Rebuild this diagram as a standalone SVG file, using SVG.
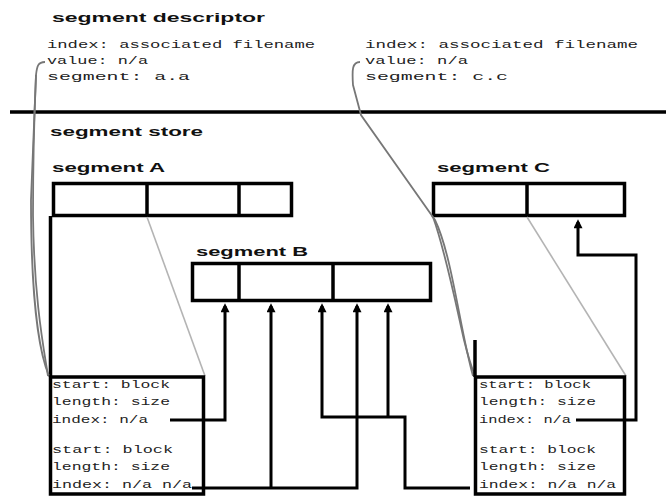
<svg xmlns="http://www.w3.org/2000/svg" width="666" height="496" viewBox="0 0 666 496">
<style>
.title{font-family:"Liberation Sans",Arial,sans-serif;font-weight:bold;font-size:13px;fill:#111}
.lbl{font-family:"Liberation Sans",Arial,sans-serif;font-weight:bold;font-size:12px;fill:#111}
.txt{font-family:"Liberation Mono","DejaVu Sans Mono",monospace;font-size:10px;fill:#222}
.box{fill:#fff;stroke:#000;stroke-width:3.5}
.div{stroke:#000;stroke-width:3.5}
.con{fill:none;stroke:#000;stroke-width:3}
.zoom{fill:none;stroke:#b4b4b4;stroke-width:1.6}
.ptr{fill:none;stroke:#777;stroke-width:1.8}
</style>
<defs>
<marker id="ah" viewBox="0 0 10 10" refX="7" refY="5" markerWidth="13" markerHeight="9" orient="auto" markerUnits="userSpaceOnUse">
<path d="M0,0 L10,5 L0,10 z" fill="#000"/>
</marker>
</defs>

<g id="descriptor">
<text class="title" x="52" y="22" textLength="213" lengthAdjust="spacingAndGlyphs">segment descriptor</text>
<text class="txt" x="47" y="48" textLength="268" lengthAdjust="spacingAndGlyphs">index: associated filename</text>
<text class="txt" x="47" y="64" textLength="101" lengthAdjust="spacingAndGlyphs">value: n/a</text>
<text class="txt" x="47" y="80" textLength="143" lengthAdjust="spacingAndGlyphs">segment: a.a</text>
<text class="txt" x="365" y="48" textLength="273" lengthAdjust="spacingAndGlyphs">index: associated filename</text>
<text class="txt" x="365" y="64" textLength="103" lengthAdjust="spacingAndGlyphs">value: n/a</text>
<text class="txt" x="365" y="80" textLength="143" lengthAdjust="spacingAndGlyphs">segment: c.c</text>
</g>

<line x1="10" y1="112" x2="666" y2="112" stroke="#000" stroke-width="3.5"/>

<g id="store">
<text class="title" x="50" y="136" textLength="153" lengthAdjust="spacingAndGlyphs">segment store</text>
</g>

<g id="segA">
<text class="lbl" x="52" y="172" textLength="113" lengthAdjust="spacingAndGlyphs">segment A</text>
<rect class="box" x="53.5" y="183.5" width="238" height="32"/>
<line class="div" x1="147" y1="183.5" x2="147" y2="215.5"/>
<line class="div" x1="239" y1="183.5" x2="239" y2="215.5"/>
</g>

<g id="segB">
<text class="lbl" x="196" y="256" textLength="112" lengthAdjust="spacingAndGlyphs">segment B</text>
<rect class="box" x="192.5" y="263.5" width="238" height="37"/>
<line class="div" x1="239" y1="263.5" x2="239" y2="300.5"/>
<line class="div" x1="333" y1="263.5" x2="333" y2="300.5"/>
</g>

<g id="segC">
<text class="lbl" x="437" y="172" textLength="113" lengthAdjust="spacingAndGlyphs">segment C</text>
<rect class="box" x="433.5" y="183.5" width="191" height="32"/>
<line class="div" x1="527" y1="183.5" x2="527" y2="215.5"/>
</g>

<g id="connectors">
<line class="zoom" x1="147" y1="217" x2="205" y2="376"/>
<line class="zoom" x1="527" y1="217" x2="626" y2="376"/>
<line x1="50.5" y1="216" x2="50.5" y2="377" stroke="#000" stroke-width="3.5"/>
<path class="ptr" d="M45,62 C38,62 37,66 36,75 L31,200 C31,290 38,350 49,376"/>
<path class="ptr" d="M36,75 C34,120 33,170 33,215 C34,300 44,350 48,376" stroke="#999"/>
<path class="ptr" d="M360,62 C352,62 352,70 353,85 L361,115 L435,220 C452,255 460,330 473,376"/>
<path class="ptr" d="M433,217 C445,250 455,300 464,340 C468,356 471,366 475,376" stroke="#555"/>
<line x1="475" y1="340" x2="475" y2="377" stroke="#000" stroke-width="3.5"/>
<path class="con" d="M170,420 H225 V306" marker-end="url(#ah)"/>
<path class="con" d="M192,488 H357 V306" marker-end="url(#ah)"/>
<path class="con" d="M271,488 V306" marker-end="url(#ah)"/>
<path class="con" d="M470,488 H405 V417 H322 V306" marker-end="url(#ah)"/>
<path class="con" d="M388,417 V306" marker-end="url(#ah)"/>
<path class="con" d="M576,420 H636 V255 H578 V222" marker-end="url(#ah)"/>
</g>

<g id="boxA">
<rect x="50.5" y="377" width="153" height="117" fill="none" stroke="#000" stroke-width="3.5"/>
<text class="txt" x="52" y="388" textLength="118" lengthAdjust="spacingAndGlyphs">start: block</text>
<text class="txt" x="52" y="405" textLength="118" lengthAdjust="spacingAndGlyphs">length: size</text>
<text class="txt" x="52" y="423" textLength="96" lengthAdjust="spacingAndGlyphs">index: n/a</text>
<text class="txt" x="52" y="453" textLength="121" lengthAdjust="spacingAndGlyphs">start: block</text>
<text class="txt" x="52" y="470" textLength="118" lengthAdjust="spacingAndGlyphs">length: size</text>
<text class="txt" x="52" y="488" textLength="140" lengthAdjust="spacingAndGlyphs">index: n/a n/a</text>
</g>

<g id="boxC">
<rect x="475.5" y="377" width="149" height="117" fill="none" stroke="#000" stroke-width="3.5"/>
<text class="txt" x="479" y="388" textLength="112" lengthAdjust="spacingAndGlyphs">start: block</text>
<text class="txt" x="479" y="405" textLength="117" lengthAdjust="spacingAndGlyphs">length: size</text>
<text class="txt" x="479" y="423" textLength="92" lengthAdjust="spacingAndGlyphs">index: n/a</text>
<text class="txt" x="479" y="453" textLength="117" lengthAdjust="spacingAndGlyphs">start: block</text>
<text class="txt" x="479" y="470" textLength="117" lengthAdjust="spacingAndGlyphs">length: size</text>
<text class="txt" x="479" y="488" textLength="137" lengthAdjust="spacingAndGlyphs">index: n/a n/a</text>
</g>
</svg>
